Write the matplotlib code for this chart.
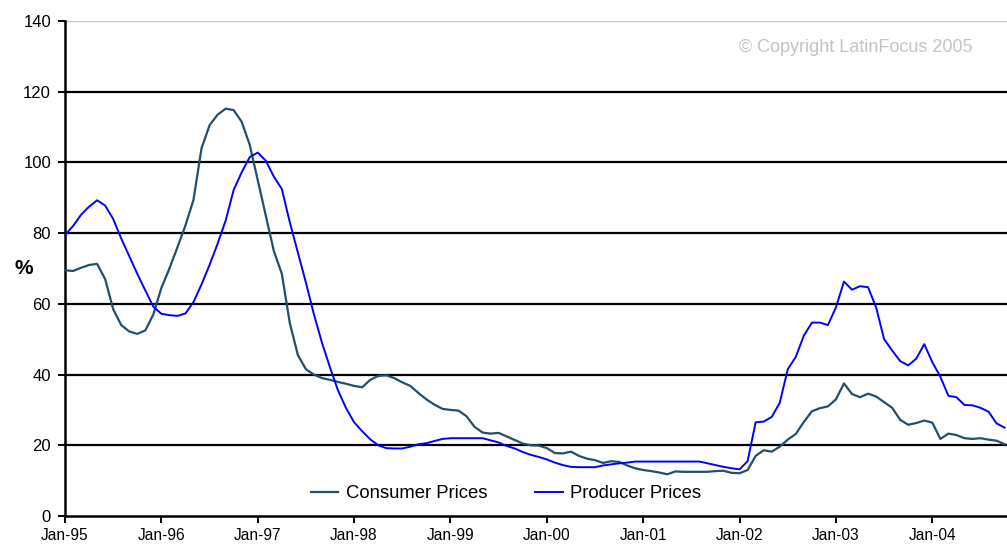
import matplotlib
matplotlib.use("Agg")
import matplotlib.pyplot as plt
from matplotlib.lines import Line2D

# Monthly year-on-year inflation, Jan-95 through Oct-04 (%)
consumer_prices = [
    69.5, 69.3, 70.2, 71.0, 71.3, 67.0, 58.5, 54.0, 52.2, 51.5, 52.5, 57.0,  # 1995
    64.5, 70.0, 76.0, 82.2, 89.4, 104.0, 110.5, 113.5, 115.2, 114.8, 111.5, 105.0,  # 1996
    95.0, 85.0, 75.0, 68.5, 54.5, 45.5, 41.5, 40.0, 39.0, 38.5, 37.9, 37.4,  # 1997
    36.8, 36.4, 38.5, 39.6, 39.8, 39.0, 37.8, 36.8, 34.8, 33.0, 31.5, 30.3,  # 1998
    30.0, 29.8, 28.2, 25.2, 23.6, 23.3, 23.5, 22.5, 21.5, 20.5, 20.0, 19.9,  # 1999
    19.2, 17.8, 17.7, 18.2, 17.0, 16.2, 15.8, 15.0, 15.5, 15.3, 14.3, 13.5,  # 2000
    13.0, 12.7, 12.3, 11.8, 12.6, 12.5, 12.5, 12.5, 12.5, 12.7, 12.8, 12.2,  # 2001
    12.1, 13.0, 17.0, 18.6, 18.2, 19.6, 21.6, 23.2, 26.6, 29.6, 30.5, 31.0,  # 2002
    33.0, 37.5, 34.5, 33.6, 34.6, 33.8, 32.2, 30.6, 27.2, 25.8, 26.3, 27.0,  # 2003
    26.4, 21.8, 23.3, 22.9, 22.0, 21.8, 22.0, 21.6, 21.3, 20.3,  # 2004
]
producer_prices = [
    79.5, 82.0, 85.2, 87.5, 89.3, 87.8, 84.0, 78.5, 73.5, 68.5, 63.8, 59.2,  # 1995
    57.2, 56.8, 56.6, 57.3, 60.5, 65.5, 71.0, 77.0, 83.5, 92.2, 97.2, 101.5,  # 1996
    102.8, 100.5, 96.0, 92.5, 83.0, 74.5, 66.0, 57.0, 49.0, 42.0, 35.5, 30.5,  # 1997
    26.5, 24.0, 21.7, 20.0, 19.2, 19.1, 19.1, 19.6, 20.3, 20.6, 21.2, 21.8,  # 1998
    22.0, 22.0, 22.0, 22.0, 22.0, 21.4, 20.8, 19.8, 19.1, 18.1, 17.3, 16.7,  # 1999
    16.0, 15.1, 14.4, 13.9, 13.8, 13.8, 13.8, 14.3, 14.6, 14.9, 15.1, 15.4,  # 2000
    15.4, 15.4, 15.4, 15.4, 15.4, 15.4, 15.4, 15.4, 14.9, 14.4, 13.9, 13.5,  # 2001
    13.2, 15.5, 26.5, 26.7, 28.0, 32.0, 41.5, 45.0, 51.0, 54.7, 54.7, 54.0,  # 2002
    59.0, 66.3, 64.0, 65.0, 64.7, 59.0, 50.0, 46.8, 43.8, 42.6, 44.5, 48.6,  # 2003
    43.5, 39.4, 34.0, 33.6, 31.4, 31.3, 30.6, 29.5, 26.2, 25.0,  # 2004
]
tick_labels = ["Jan-95", "Jan-96", "Jan-97", "Jan-98", "Jan-99",
               "Jan-00", "Jan-01", "Jan-02", "Jan-03", "Jan-04"]
y_ticks = [0, 20, 40, 60, 80, 100, 120, 140]
series_names = ["Consumer Prices", "Producer Prices"]

plt.rcParams["font.family"] = ["Liberation Sans", "DejaVu Sans"]

W, H = 1007, 546
fig = plt.figure(figsize=(W / 100, H / 100), dpi=100)
ax = fig.add_axes([65 / W, 1 - 516 / H, (1007 - 65) / W, (516 - 21) / H])

months = list(range(len(consumer_prices)))
c_cons = "#244f6c"
c_prod = "#0000ff"

# horizontal gridlines; the top one is a light border line
for v in y_ticks[1:-1]:
    ax.axhline(v, color="black", lw=1.6, zorder=1)
ax.axhline(140, color="#c8c8c8", lw=1.0, zorder=1)

ax.plot(months, consumer_prices, color=c_cons, lw=1.6, zorder=3)
ax.plot(months, producer_prices, color=c_prod, lw=1.4, zorder=3)

ax.set_xlim(0, 117.3)
ax.set_ylim(0, 140)
ax.set_yticks(y_ticks)
ax.set_yticklabels([str(v) for v in y_ticks], fontsize=12)
ax.set_xticks([12 * i for i in range(len(tick_labels))])
ax.set_xticklabels(tick_labels, fontsize=11.2)
ax.tick_params(axis="both", direction="out", length=5, width=1.4, colors="black")
ax.tick_params(axis="x", pad=4)
ax.tick_params(axis="y", pad=5)

for s in ("top", "right"):
    ax.spines[s].set_visible(False)
for s in ("left", "bottom"):
    ax.spines[s].set_linewidth(1.8)
    ax.spines[s].set_color("black")

fig.text(24 / W, 1 - 268 / H, "%", fontsize=15, fontweight="bold",
         ha="center", va="center")

fig.text(856 / W, 1 - 47 / H, "\u00a9 Copyright LatinFocus 2005", fontsize=13,
         color="#c4c4c4", ha="center", va="center")

handles = [Line2D([], [], color=c_cons, lw=1.6),
           Line2D([], [], color=c_prod, lw=1.4)]
fig.legend(handles, series_names, loc="center",
           bbox_to_anchor=(506 / W, 1 - 494 / H), ncol=2, frameon=False,
           fontsize=13.3, handlelength=1.5, handletextpad=0.4,
           columnspacing=2.6)

fig.savefig("out.png", dpi=100)
